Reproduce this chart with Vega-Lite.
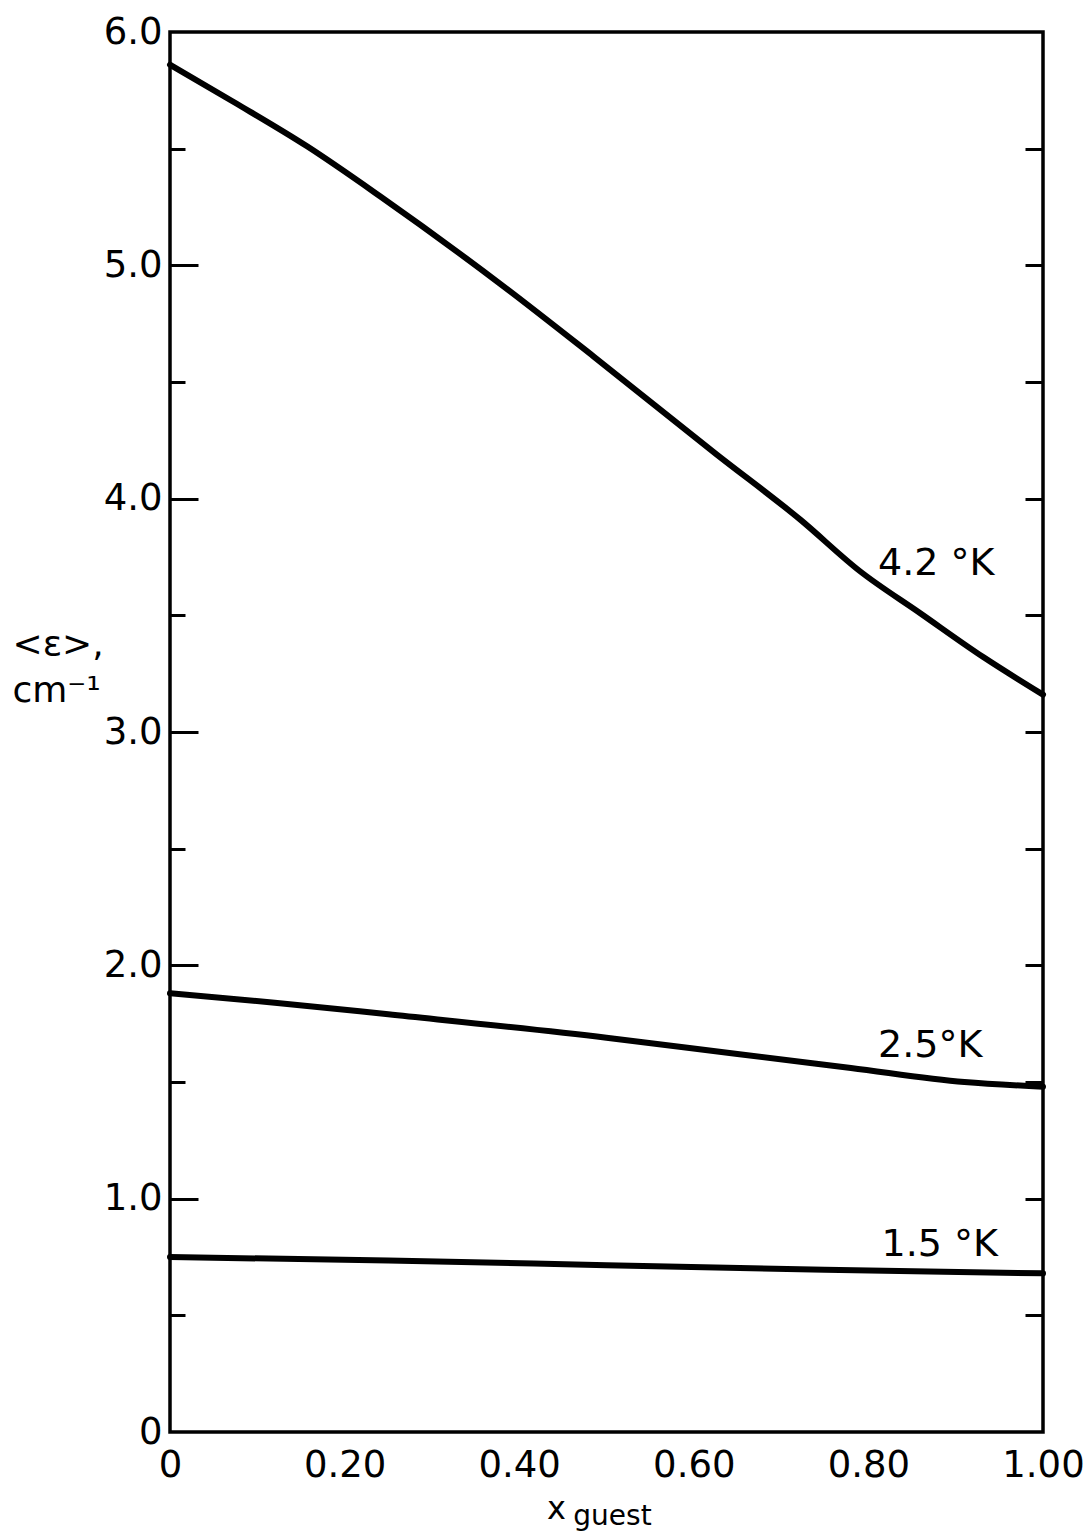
{
  "$schema": "https://vega.github.io/schema/vega-lite/v6.json",
  "width": 873,
  "height": 1400,
  "autosize": "none",
  "padding": {"left": 170, "top": 32, "right": 48, "bottom": 99},
  "background": "white",
  "config": {
    "view": {"stroke": "black", "strokeWidth": 3.5},
    "font": "DejaVu Sans",
    "axis": {"labelColor": "black", "titleColor": "black", "tickColor": "black", "grid": false, "domain": false, "labelFont": "DejaVu Sans", "titleFont": "DejaVu Sans", "titleFontWeight": "normal"}
  },
  "datasets": {
    "curves": [
      {"T": "4.2", "x": 0.0, "e": 5.86},
      {"T": "4.2", "x": 0.073, "e": 5.70},
      {"T": "4.2", "x": 0.157, "e": 5.51},
      {"T": "4.2", "x": 0.241, "e": 5.295},
      {"T": "4.2", "x": 0.382, "e": 4.91},
      {"T": "4.2", "x": 0.485, "e": 4.61},
      {"T": "4.2", "x": 0.626, "e": 4.19},
      {"T": "4.2", "x": 0.722, "e": 3.91},
      {"T": "4.2", "x": 0.790, "e": 3.69},
      {"T": "4.2", "x": 0.859, "e": 3.51},
      {"T": "4.2", "x": 0.932, "e": 3.32},
      {"T": "4.2", "x": 1.0, "e": 3.16},
      {"T": "2.5", "x": 0.0, "e": 1.88},
      {"T": "2.5", "x": 0.12, "e": 1.84},
      {"T": "2.5", "x": 0.25, "e": 1.79},
      {"T": "2.5", "x": 0.5, "e": 1.69},
      {"T": "2.5", "x": 0.65, "e": 1.62},
      {"T": "2.5", "x": 0.78, "e": 1.56},
      {"T": "2.5", "x": 0.91, "e": 1.50},
      {"T": "2.5", "x": 1.0, "e": 1.48},
      {"T": "1.5", "x": 0.0, "e": 0.75},
      {"T": "1.5", "x": 0.25, "e": 0.735},
      {"T": "1.5", "x": 0.5, "e": 0.715},
      {"T": "1.5", "x": 0.75, "e": 0.695},
      {"T": "1.5", "x": 1.0, "e": 0.68}
    ],
    "labels": [
      {"T": "4.2", "x": 0.811, "e": 3.72, "text": "4.2 °K"},
      {"T": "2.5", "x": 0.811, "e": 1.655, "text": "2.5°K"},
      {"T": "1.5", "x": 0.815, "e": 0.80, "text": "1.5 °K"}
    ]
  },
  "layer": [
    {
      "data": {"name": "curves"},
      "mark": {"type": "line", "color": "black", "strokeWidth": 6, "interpolate": "monotone", "strokeCap": "round"},
      "encoding": {
        "x": {
          "field": "x", "type": "quantitative",
          "scale": {"domain": [0, 1], "nice": false},
          "axis": {
            "orient": "bottom", "values": [0, 0.2, 0.4, 0.6, 0.8, 1.0],
            "ticks": false, "labelPadding": 15, "labelFontSize": 37,
            "labelExpr": "datum.value == 0 ? '0' : format(datum.value, '.2f')",
            "labelFlush": false,
            "title": "x", "titleFontSize": 32, "titleX": 386, "titleY": 86,
            "titleBaseline": "alphabetic", "titleAlign": "center"
          }
        },
        "y": {
          "field": "e", "type": "quantitative",
          "scale": {"domain": [0, 6], "nice": false},
          "axis": {
            "orient": "left", "values": [0, 1, 2, 3, 4, 5, 6],
            "ticks": false, "labelPadding": 8, "labelFontSize": 37,
            "labelExpr": "datum.value == 0 ? '0' : format(datum.value, '.1f')",
            "labelFlush": false,
            "title": ["<ε>,", "cm⁻¹"], "titleFontSize": 36, "titleLineHeight": 46,
            "titleAngle": 0, "titleAlign": "left", "titleBaseline": "alphabetic",
            "titleX": -158, "titleY": 623
          }
        },
        "detail": {"field": "T"}
      }
    },
    {
      "data": {"name": "labels"},
      "transform": [{"filter": "datum.T == '4.2'"}],
      "mark": {"type": "text", "align": "left", "baseline": "middle", "fontSize": 38, "color": "black"},
      "encoding": {
        "x": {
          "field": "x", "type": "quantitative",
          "axis": {
            "orient": "bottom", "labels": false, "ticks": false,
            "title": "guest", "titleFontSize": 28, "titleX": 442, "titleY": 92,
            "titleBaseline": "alphabetic", "titleAlign": "center"
          }
        },
        "y": {
          "field": "e", "type": "quantitative",
          "axis": {"orient": "left", "values": [1, 2, 3, 4, 5], "labels": false, "tickSize": -28, "tickWidth": 3, "title": null}
        },
        "text": {"field": "text"}
      }
    },
    {
      "data": {"name": "labels"},
      "transform": [{"filter": "datum.T == '2.5'"}],
      "mark": {"type": "text", "align": "left", "baseline": "middle", "fontSize": 38, "color": "black"},
      "encoding": {
        "x": {"field": "x", "type": "quantitative", "axis": null},
        "y": {
          "field": "e", "type": "quantitative",
          "axis": {"orient": "left", "values": [0.5, 1.5, 2.5, 3.5, 4.5, 5.5], "labels": false, "tickSize": -15, "tickWidth": 3, "title": null}
        },
        "text": {"field": "text"}
      }
    },
    {
      "data": {"name": "labels"},
      "transform": [{"filter": "datum.T == '1.5'"}],
      "mark": {"type": "text", "align": "left", "baseline": "middle", "fontSize": 38, "color": "black"},
      "encoding": {
        "x": {"field": "x", "type": "quantitative", "axis": null},
        "y": {
          "field": "e", "type": "quantitative",
          "axis": {"orient": "right", "values": [0.5, 1, 1.5, 2, 2.5, 3, 3.5, 4, 4.5, 5, 5.5], "labels": false, "tickSize": -18, "tickWidth": 3, "title": null}
        },
        "text": {"field": "text"}
      }
    }
  ],
  "resolve": {"axis": {"x": "independent", "y": "independent"}}
}
